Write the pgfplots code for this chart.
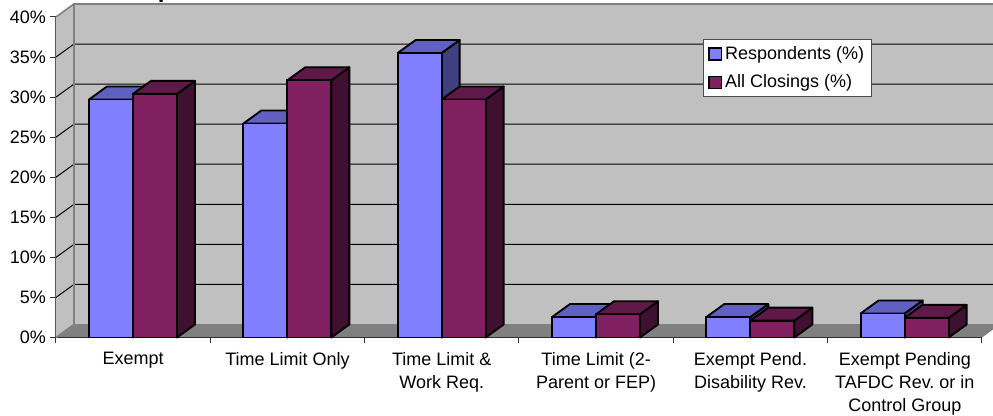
\documentclass[border=0pt]{standalone}
\usepackage{fontspec}
\setmainfont{Liberation Sans}
\usepackage{pgfplots}
\pgfplotsset{compat=1.18}
\definecolor{wall}{HTML}{C0C0C0}
\definecolor{floorc}{HTML}{808080}
\definecolor{bluef}{HTML}{8080FF}
\definecolor{bluet}{HTML}{6060C0}
\definecolor{blues}{HTML}{404080}
\definecolor{purpf}{HTML}{802060}
\definecolor{purpt}{HTML}{601848}
\definecolor{purps}{HTML}{401030}
% depth of the 3-D box in axis units
\def\dX{0.1166}
\def\dY{1.623}
\def\bW{0.2851}
% #1 left x of bar, #2 value, #3 top colour, #4 side colour
\newcommand\BarFaces[4]{%
  \pgfmathsetmacro\xa{#1}%
  \pgfmathsetmacro\xb{#1+\bW}%
  \pgfmathsetmacro\xc{#1+\dX}%
  \pgfmathsetmacro\xd{#1+\bW+\dX}%
  \pgfmathsetmacro\yt{#2+\dY}%
  \addplot[forget plot,fill=#4,draw=black,line width=1.4pt,line join=round]
    coordinates {(\xb,0) (\xd,\dY) (\xd,\yt) (\xb,#2)} --cycle;
  \addplot[forget plot,fill=#3,draw=black,line width=1.4pt,line join=round]
    coordinates {(\xa,#2) (\xc,\yt) (\xd,\yt) (\xb,#2)} --cycle;
}
\newcommand\GridL[1]{%
  \pgfmathsetmacro\yt{#1+\dY}%
  \addplot[forget plot,black,line width=0.75pt] coordinates {(0,#1) (\dX,\yt) (6.2,\yt)};
}
\begin{document}
\frenchspacing
\begin{tikzpicture}
\useasboundingbox (0,0) rectangle (744.75pt,312pt);
\clip (0,0) rectangle (744.75pt,312pt);
\node[anchor=base west,inner sep=0pt,font=\bfseries\fontsize{18}{20}\selectfont] at (118.2pt,314pt) {p};
\begin{axis}[
  at={(42pt,58.875pt)}, anchor=south west,
  scale only axis, width=694.5pt, height=240.4pt,
  xmin=0, xmax=6, ymin=0, ymax=40,
  clip=false,
  axis x line=bottom, axis y line=left,
  axis line style={-,line width=0.75pt},
  x axis line style={black},
  y axis line style={black!70},
  xtick={0,...,6},
  x tick label as interval,
  xticklabels={{Exempt},{Time Limit Only},{Time Limit \&\\Work Req.},{Time Limit (2-\\Parent or FEP)},{Exempt Pend.\\Disability Rev.},{Exempt Pending\\TAFDC Rev. or in\\Control Group}},
  ytick={0,5,...,40},
  yticklabel={\pgfmathprintnumber{\tick}\%},
  /pgf/number format/assume math mode=true,
  tick align=outside,
  major tick length=4.5pt,
  tick style={black!80,line width=0.75pt},
  tick label style={font=\fontsize{13.5}{17.25}\selectfont},
  xticklabel style={align=center,anchor=north,yshift=-3pt},
  yticklabel style={xshift=0.5pt},
  legend style={at={(0.6987,0.931)},anchor=north west,draw=black!70,line width=0.75pt,
    fill=white,font=\fontsize{13.5}{14}\selectfont,inner xsep=3.5pt,inner ysep=3pt,
    row sep=6.25pt},
  legend cell align=left,
  legend image code/.code={\draw[#1,line width=1.2pt,draw=black] (2pt,-4.5pt) rectangle (11.5pt,4.5pt);},
]
% walls and floor
\addplot[forget plot,fill=wall,draw=none] coordinates {(0,0) (\dX,\dY) (6.2,\dY) (6.2,41.623) (\dX,41.623) (0,40)} --cycle;
\addplot[forget plot,fill=floorc,draw=none] coordinates {(0,0) (\dX,\dY) (6.1166,\dY) (6,0)} --cycle;
% gridlines
\GridL{5}\GridL{10}\GridL{15}\GridL{20}\GridL{25}\GridL{30}\GridL{35}
\addplot[forget plot,floorc,line width=1.2pt] coordinates {(0,0) (\dX,\dY) (\dX,41.623) (6.2,41.623)};
\addplot[forget plot,floorc,line width=1.2pt] coordinates {(0,40) (\dX,41.623)};
\addplot[forget plot,floorc,line width=1.2pt] coordinates {(\dX,\dY) (6.1166,\dY)};
% Respondents: depth faces
\BarFaces{0.2138}{29.7}{bluet}{blues}
\BarFaces{1.2138}{26.7}{bluet}{blues}
\BarFaces{2.2138}{35.5}{bluet}{blues}
\BarFaces{3.2138}{2.55}{bluet}{blues}
\BarFaces{4.2138}{2.55}{bluet}{blues}
\BarFaces{5.2138}{3.0}{bluet}{blues}
\addplot[ybar,bar width=0.2851,bar shift=-0.1426,fill=bluef,draw=black,line width=1.4pt]
  coordinates {(0.4989,29.7) (1.4989,26.7) (2.4989,35.5) (3.4989,2.55) (4.4989,2.55) (5.4989,3.0)};
\addlegendentry{Respondents (\%)}
% All Closings: depth faces
\BarFaces{0.4989}{30.4}{purpt}{purps}
\BarFaces{1.4989}{32.1}{purpt}{purps}
\BarFaces{2.4989}{29.7}{purpt}{purps}
\BarFaces{3.4989}{2.9}{purpt}{purps}
\BarFaces{4.4989}{2.1}{purpt}{purps}
\BarFaces{5.4989}{2.45}{purpt}{purps}
\addplot[ybar,bar width=0.2851,bar shift=0.1426,fill=purpf,draw=black,line width=1.4pt]
  coordinates {(0.4989,30.4) (1.4989,32.1) (2.4989,29.7) (3.4989,2.9) (4.4989,2.1) (5.4989,2.45)};
\addlegendentry{All Closings (\%)}
\end{axis}
\end{tikzpicture}
\end{document}
